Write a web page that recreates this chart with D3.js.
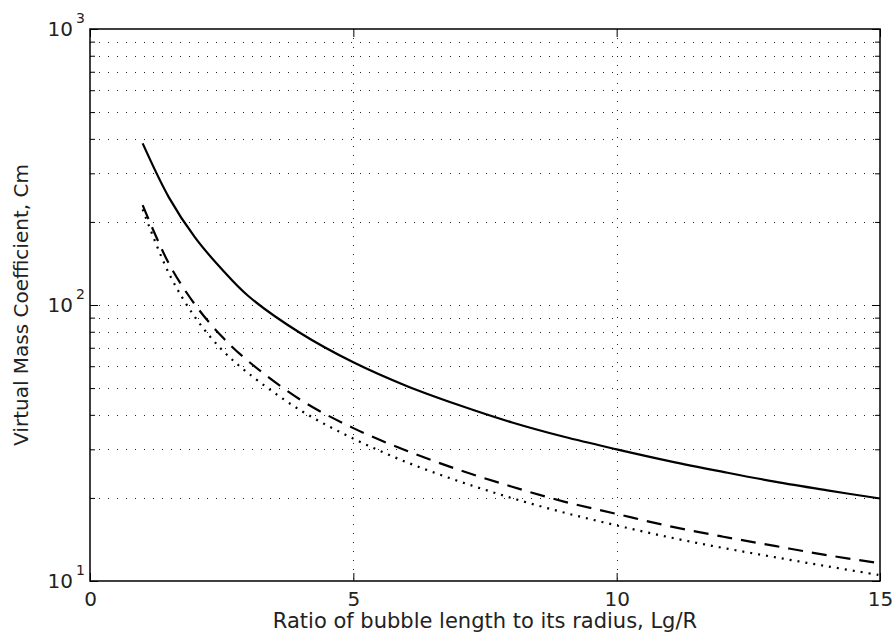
<!DOCTYPE html>
<html lang="en">
<head>
<meta charset="utf-8">
<title>Virtual mass coefficient</title>
<script src="https://cdn.jsdelivr.net/npm/d3@7"></script>
<style>
  body { margin: 0; background: #fff; }
  text { font-family: "DejaVu Sans", sans-serif; fill: #222; }
</style>
</head>
<body>
<script>

var ratios = [1, 1.5, 2, 2.5, 3, 4, 5, 6, 7, 8, 9, 10, 11, 12, 13, 14, 15];

// virtual mass coefficient, three curves
var solidCm  = [385, 245, 175, 135, 108, 79, 62, 51, 43.4, 37.6, 33.3, 30, 27.2, 24.9, 22.9, 21.3, 19.9];
var dashedCm = [230, 141, 100, 77, 62.7, 45.3, 35.8, 29.7, 25.3, 22, 19.4, 17.5, 15.8, 14.5, 13.4, 12.4, 11.6];
var dottedCm = [222, 130, 90, 69, 56.7, 41.5, 32.8, 27, 23, 20, 17.7, 15.9, 14.4, 13.2, 12.2, 11.3, 10.5];

var xTicks = [0, 5, 10, 15];
var yDecades = [1, 2, 3];

var width = 894, height = 641;
var plotLeft = 90, plotRight = 880, plotTop = 29, plotBottom = 581;

var svg = d3.select("body").append("svg")
  .attr("width", width)
  .attr("height", height);

var x = d3.scaleLinear().domain([0, 15]).range([plotLeft, plotRight]);
var y = d3.scaleLog().domain([10, 1000]).range([plotBottom, plotTop]);

// all log ticks 10,20..90,100,200..1000
var allY = y.ticks();
var majorY = allY.filter(function(d) { return Math.abs(Math.log10(d) % 1) < 1e-9; });
var minorY = allY.filter(function(d) { return majorY.indexOf(d) < 0; });

// dotted grid
var grid = svg.append("g")
  .attr("stroke", "#222")
  .attr("stroke-width", 1)
  .attr("stroke-dasharray", "1,8");

grid.selectAll(".hg")
  .data(allY.filter(function(d) { return d > 10 && d < 1000; }))
  .enter().append("line")
  .attr("x1", plotLeft).attr("x2", plotRight)
  .attr("y1", function(d) { return Math.round(y(d)) + 0.5; })
  .attr("y2", function(d) { return Math.round(y(d)) + 0.5; });

grid.selectAll(".vg")
  .data(xTicks.filter(function(d) { return d > 0 && d < 15; }))
  .enter().append("line")
  .attr("y1", plotTop).attr("y2", plotBottom)
  .attr("x1", function(d) { return Math.round(x(d)) + 0.5; })
  .attr("x2", function(d) { return Math.round(x(d)) + 0.5; });

// curves
var line = d3.line()
  .x(function(d) { return x(d[0]); })
  .y(function(d) { return y(d[1]); })
  .curve(d3.curveCatmullRom.alpha(0.5));

var series = [
  { values: solidCm, dash: null },
  { values: dashedCm, dash: "15,9" },
  { values: dottedCm, dash: "2,6" }
];

svg.selectAll(".curve")
  .data(series)
  .enter().append("path")
  .attr("class", "curve")
  .attr("fill", "none")
  .attr("stroke", "#000")
  .attr("stroke-width", 2.2)
  .attr("stroke-dasharray", function(d) { return d.dash; })
  .attr("d", function(d) {
    return line(ratios.map(function(r, i) { return [r, d.values[i]]; }));
  });

// axes with inward ticks
function styleAxis(g) {
  g.select(".domain").remove();
  g.selectAll("line").attr("stroke", "#000");
}

svg.append("g")
  .attr("transform", "translate(0," + plotBottom + ")")
  .call(d3.axisBottom(x).tickValues(xTicks).tickSizeInner(-8).tickSizeOuter(0).tickPadding(11))
  .call(styleAxis)
  .selectAll("text")
  .style("font-size", "20px")
  .style("font-family", "DejaVu Sans, sans-serif")
  .attr("fill", "#222");

svg.append("g")
  .attr("transform", "translate(0," + plotTop + ")")
  .call(d3.axisTop(x).tickValues(xTicks).tickSizeInner(-8).tickSizeOuter(0).tickFormat(""))
  .call(styleAxis);

svg.append("g")
  .attr("transform", "translate(" + plotLeft + ",0)")
  .call(d3.axisLeft(y).tickValues(majorY).tickSizeInner(-8).tickSizeOuter(0).tickFormat(""))
  .call(styleAxis);

svg.append("g")
  .attr("transform", "translate(" + plotLeft + ",0)")
  .call(d3.axisLeft(y).tickValues(minorY).tickSizeInner(-5).tickSizeOuter(0).tickFormat(""))
  .call(styleAxis);

svg.append("g")
  .attr("transform", "translate(" + plotRight + ",0)")
  .call(d3.axisRight(y).tickValues(majorY).tickSizeInner(-8).tickSizeOuter(0).tickFormat(""))
  .call(styleAxis);

svg.append("g")
  .attr("transform", "translate(" + plotRight + ",0)")
  .call(d3.axisRight(y).tickValues(minorY).tickSizeInner(-5).tickSizeOuter(0).tickFormat(""))
  .call(styleAxis);

// frame
svg.append("rect")
  .attr("x", plotLeft).attr("y", plotTop)
  .attr("width", plotRight - plotLeft).attr("height", plotBottom - plotTop)
  .attr("fill", "none")
  .attr("stroke", "#000")
  .attr("stroke-width", 1.5);

// y tick labels 10^n
var ylab = svg.append("g");
ylab.selectAll(".base")
  .data(yDecades)
  .enter().append("text")
  .attr("x", plotLeft - 17)
  .attr("y", function(d) { return y(Math.pow(10, d)) + 7; })
  .attr("text-anchor", "end")
  .style("font-size", "20px")
  .text("10");

ylab.selectAll(".exp")
  .data(yDecades)
  .enter().append("text")
  .attr("x", plotLeft - 14)
  .attr("y", function(d) { return y(Math.pow(10, d)) - 6; })
  .style("font-size", "14px")
  .text(function(d) { return d; });

// axis titles
svg.append("text")
  .attr("x", (plotLeft + plotRight) / 2)
  .attr("y", 628)
  .attr("text-anchor", "middle")
  .style("font-size", "21px")
  .text("Ratio of bubble length to its radius, Lg/R");

svg.append("text")
  .attr("transform", "translate(28," + (plotTop + plotBottom) / 2 + ") rotate(-90)")
  .attr("text-anchor", "middle")
  .style("font-size", "20px")
  .text("Virtual Mass Coefficient, Cm");

</script>
</body>
</html>
